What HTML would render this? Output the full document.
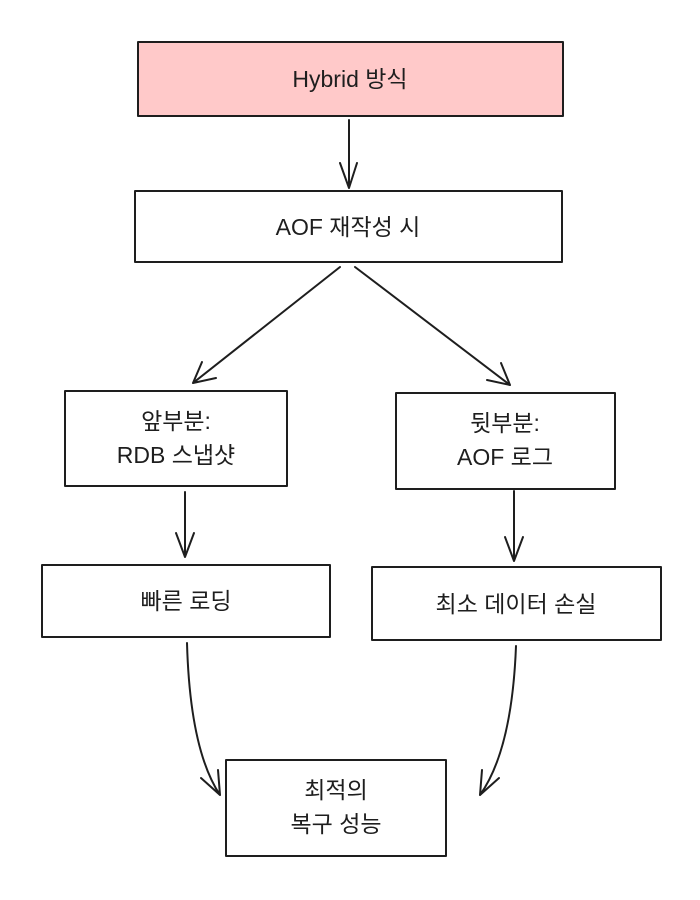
<!DOCTYPE html>
<html><head><meta charset="utf-8"><style>
html,body{margin:0;padding:0;background:#fff;}
svg text{font-family:"Liberation Sans","Noto Sans CJK KR",sans-serif;font-size:23px;fill:#1e1e1e;text-anchor:middle;}
</style></head><body>
<svg width="700" height="895" viewBox="0 0 700 895" xmlns="http://www.w3.org/2000/svg">
<g stroke="#1e1e1e" stroke-width="2" fill="none" stroke-linecap="round" stroke-linejoin="round">
<rect x="138" y="42" width="425" height="74" fill="#ffc9c9"/>
<rect x="135" y="191" width="427" height="71" fill="#fff"/>
<rect x="65" y="391" width="222" height="95" fill="#fff"/>
<rect x="396" y="393" width="219" height="96" fill="#fff"/>
<rect x="42" y="565" width="288" height="72" fill="#fff"/>
<rect x="372" y="567" width="289" height="73" fill="#fff"/>
<rect x="226" y="760" width="220" height="96" fill="#fff"/>
<path d="M349 120 L349 188 M340 163 L349 188 L357 163"/>
<path d="M340 267 L193 383 M202 362 L193 383 L216 378"/>
<path d="M355 267 L510 385 M487 380 L510 385 L501 363"/>
<path d="M185 492 L185 557 M176 533 L185 557 L194 533"/>
<path d="M514 491 L514 561 M505 537 L514 561 L523 537"/>
<path d="M187 643 Q190 750 220 795 M201 778 L220 795 L218 770"/>
<path d="M516 646 Q512 750 480 795 M482 770 L480 795 L499 778"/>
</g>
<text x="350" y="87">Hybrid 방식</text>
<text x="348" y="235">AOF 재작성 시</text>
<text x="176" y="429">앞부분:</text>
<text x="176" y="463">RDB 스냅샷</text>
<text x="505" y="431">뒷부분:</text>
<text x="505" y="465">AOF 로그</text>
<text x="186" y="609">빠른 로딩</text>
<text x="516" y="612">최소 데이터 손실</text>
<text x="336" y="798">최적의</text>
<text x="336" y="832">복구 성능</text>
</svg>
</body></html>
